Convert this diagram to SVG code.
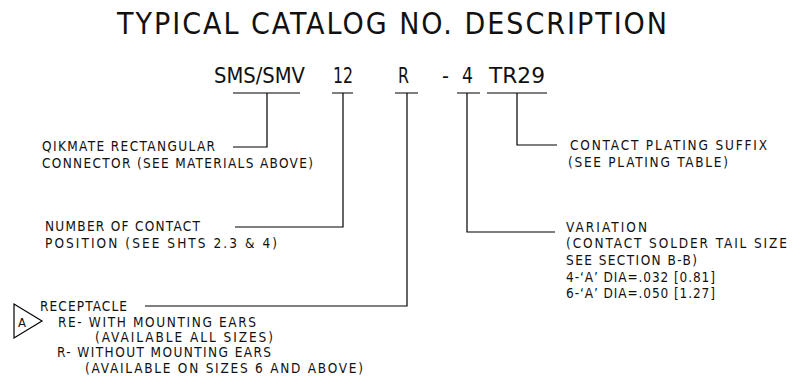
<svg xmlns="http://www.w3.org/2000/svg" width="802" height="392" viewBox="0 0 802 392">
<style>
text{font-family:"DejaVu Sans","Liberation Sans",sans-serif;font-stretch:condensed;fill:#111;}
.t{font-size:30px;}
.c{font-size:20.5px;}
.s{font-size:13.5px;}
.ln{fill:none;stroke:#000;stroke-width:1.2;}
</style>
<rect width="802" height="392" fill="#fff"/>
<g id="title"><text class="t" x="117" y="34" textLength="550" lengthAdjust="spacing">TYPICAL CATALOG NO. DESCRIPTION</text></g>
<g id="catalog">
<text class="c" x="214" y="83" textLength="91" lengthAdjust="spacingAndGlyphs">SMS/SMV</text>
<text class="c" x="333" y="83" textLength="20" lengthAdjust="spacingAndGlyphs">12</text>
<text class="c" x="398" y="83" textLength="11" lengthAdjust="spacingAndGlyphs">R</text>
<text class="c" x="442" y="83" textLength="7" lengthAdjust="spacingAndGlyphs">-</text>
<text class="c" x="462" y="83" textLength="11" lengthAdjust="spacingAndGlyphs">4</text>
<text class="c" x="489" y="83" textLength="56" lengthAdjust="spacingAndGlyphs">TR29</text>
</g>
<g id="connectors" class="ln">
<path d="M233 93H300M267 93V147H233"/>
<path d="M332 93H353M343 93V227H235"/>
<path d="M395 93H418M407 93V306H145"/>
<path d="M457 93H480M467 93V232H555"/>
<path d="M487 93H547M517 93V145H557"/>
</g>
<g id="node-qikmate">
<text class="s" x="42" y="151" textLength="173" lengthAdjust="spacing">QIKMATE RECTANGULAR</text>
<text class="s" x="42" y="168" textLength="271" lengthAdjust="spacing">CONNECTOR (SEE MATERIALS ABOVE)</text>
</g>
<g id="node-contacts">
<text class="s" x="45" y="231" textLength="155" lengthAdjust="spacing">NUMBER OF CONTACT</text>
<text class="s" x="45" y="248" textLength="232" lengthAdjust="spacing">POSITION (SEE SHTS 2.3 &amp; 4)</text>
</g>
<g id="node-receptacle">
<polygon class="ln" points="14,304 14,338 42,321"/>
<text class="s" x="18" y="327" style="font-size:13px">A</text>
<text class="s" x="40" y="311" textLength="87" lengthAdjust="spacing">RECEPTACLE</text>
<text class="s" x="58" y="327" textLength="198" lengthAdjust="spacing">RE- WITH MOUNTING EARS</text>
<text class="s" x="95" y="342" textLength="178" lengthAdjust="spacing">(AVAILABLE ALL SIZES)</text>
<text class="s" x="57" y="357" textLength="214" lengthAdjust="spacing">R- WITHOUT MOUNTING EARS</text>
<text class="s" x="85" y="373" textLength="278" lengthAdjust="spacing">(AVAILABLE ON SIZES 6 AND ABOVE)</text>
</g>
<g id="node-plating">
<text class="s" x="570" y="150" textLength="197" lengthAdjust="spacing">CONTACT PLATING SUFFIX</text>
<text class="s" x="568" y="167" textLength="160" lengthAdjust="spacing">(SEE PLATING TABLE)</text>
</g>
<g id="node-variation">
<text class="s" x="566" y="232" textLength="81" lengthAdjust="spacing">VARIATION</text>
<text class="s" x="566" y="248" textLength="221" lengthAdjust="spacing">(CONTACT SOLDER TAIL SIZE</text>
<text class="s" x="566" y="265" textLength="131" lengthAdjust="spacing">SEE SECTION B-B)</text>
<text class="s" x="566" y="282" textLength="149" lengthAdjust="spacing">4-‘A’ DIA=.032 [0.81]</text>
<text class="s" x="566" y="298" textLength="149" lengthAdjust="spacing">6-‘A’ DIA=.050 [1.27]</text>
</g>
</svg>
